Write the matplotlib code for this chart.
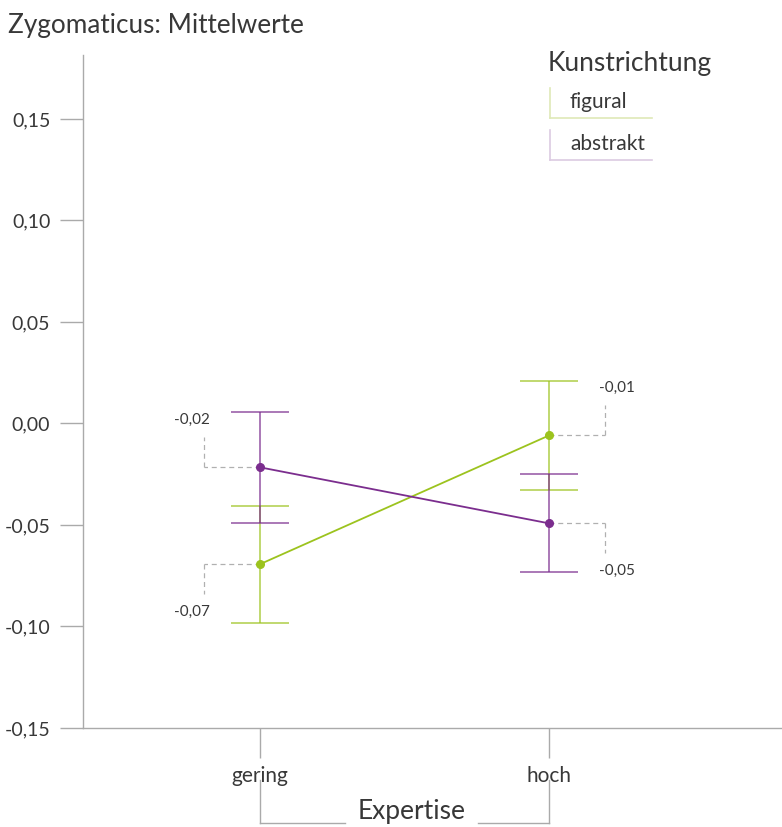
import matplotlib
matplotlib.use("Agg")
import matplotlib.pyplot as plt
from matplotlib.lines import Line2D

plt.rcParams['font.family'] = ['Lato', 'DejaVu Sans']
plt.rcParams['font.weight'] = 'normal'

# ---- data ----
categories = ["gering", "hoch"]
series_names = ["figural", "abstrakt"]
figural_means = [-0.0693, -0.0059]
figural_err = [0.0288, 0.0270]
abstrakt_means = [-0.0216, -0.0492]
abstrakt_err = [0.0273, 0.0242]
yticks = [-0.15, -0.10, -0.05, 0.00, 0.05, 0.10, 0.15]
title = "Zygomaticus: Mittelwerte"
legend_title = "Kunstrichtung"
xlabel = "Expertise"

GREEN = "#9cc31e"
PURPLE = "#7b2d8e"
AXC = "#aaaaaa"
TXT = "#383838"

W, H = 782, 827
fig = plt.figure(figsize=(W / 100, H / 100), dpi=100)
ax = fig.add_axes([83 / W, (H - 728) / H, (W - 83) / W, (728 - 55) / H])

xs = list(range(len(categories)))

for means, errs, col in [(figural_means, figural_err, GREEN), (abstrakt_means, abstrakt_err, PURPLE)]:
    ax.errorbar(xs, means, yerr=errs, fmt='none', ecolor=col, elinewidth=1.2,
                capsize=21, capthick=1.2, alpha=0.75, zorder=2)
    ax.plot(xs, means, color=col, lw=1.3, marker='o', ms=5.5, zorder=3)

ax.set_xlim(-0.6125, 1.806)
ax.set_ylim(-0.15, 0.1815)

for s in ['top', 'right']:
    ax.spines[s].set_visible(False)
for s in ['left', 'bottom']:
    ax.spines[s].set_color(AXC)
    ax.spines[s].set_linewidth(1.0)

ax.set_yticks(yticks)
ax.set_yticklabels([f"{v:.2f}".replace(".", ",") for v in yticks])
ax.tick_params(axis='y', direction='out', length=16.5, width=1, color=AXC,
               labelsize=14, labelcolor=TXT, pad=7)
ax.set_xticks(xs)
ax.set_xticklabels(categories)
ax.tick_params(axis='x', direction='out', length=21.5, width=1, color=AXC,
               labelsize=15, labelcolor=TXT, pad=6)

# value annotations with dashed elbow leaders
def fmt(v):
    return f"{v:.2f}".replace(".", ",")

dash = dict(color="#b0b0b0", lw=0.9, ls=(0, (4, 3)), zorder=1, clip_on=False)
annots = [
    (0, abstrakt_means[0], -1, +1),
    (0, figural_means[0], -1, -1),
    (1, figural_means[1], +1, +1),
    (1, abstrakt_means[1], +1, -1),
]
for x, y, sx, sy in annots:
    xe = x + sx * 0.195
    ax.plot([x, xe], [y, y], **dash)
    ax.plot([xe, xe], [y, y + sy * 0.0148], **dash)
    ax.text(x + sx * 0.235, y + sy * 0.0235, fmt(y), ha='center', va='center',
            fontsize=11, color=TXT)

# x-axis label bracket
ylo = -0.1755
ybr = -0.1967
br = dict(color=AXC, lw=1.0, clip_on=False)
ax.plot([0, 0], [ylo, ybr], **br)
ax.plot([1, 1], [ylo, ybr], **br)
ax.plot([0, 0.295], [ybr, ybr], **br)
ax.plot([0.755, 1], [ybr, ybr], **br)
ax.text(0.525, -0.1950, xlabel, ha='center', va='baseline', fontsize=19, color=TXT, clip_on=False)

# title
fig.text(8 / W, 1 - 25 / H, title, ha='left', va='center', fontsize=18.8, color=TXT)

# custom legend
fig.text(548 / W, 1 - 63 / H, legend_title, ha='left', va='center', fontsize=19, color=TXT)
leg_cols = ["#dfe9b8", "#dccbe2"]
for i, (name, c) in enumerate(zip(series_names, leg_cols)):
    top = 88 + i * 42
    bot = top + 30
    fig.add_artist(Line2D([550 / W, 550 / W], [1 - top / H, 1 - bot / H], color=c, lw=1.2))
    fig.add_artist(Line2D([550 / W, 652 / W], [1 - bot / H, 1 - bot / H], color=c, lw=1.2))
    fig.text(570 / W, 1 - (top + 14) / H, name, ha='left', va='center', fontsize=15, color=TXT)

fig.savefig("out.png", dpi=100)
